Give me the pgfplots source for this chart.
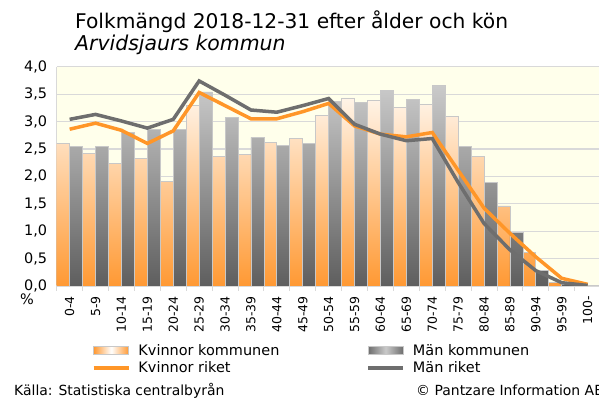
\documentclass[border=0pt]{standalone}
\usepackage{fontspec}
\setmainfont{DejaVu Sans}
\usepackage{pgfplots}
\usepackage{pgfplotstable}
\pgfplotsset{compat=1.18}
\definecolor{kor}{RGB}{255,153,51}
\definecolor{korline}{RGB}{255,150,40}
\definecolor{mgr}{RGB}{94,94,94}
\definecolor{mgrtop}{RGB}{202,202,202}
\definecolor{mline}{RGB}{110,110,110}
\definecolor{plotbg}{RGB}{255,255,235}
\definecolor{gridc}{RGB}{217,217,217}
\definecolor{barborder}{RGB}{200,200,200}
\definecolor{ktop}{RGB}{255,244,232}

\pgfplotstableread{
x k m kr mr
0 2.60 2.55 2.86 3.04
1 2.41 2.55 2.97 3.13
2 2.24 2.80 2.84 3.01
3 2.32 2.85 2.60 2.88
4 1.91 2.85 2.83 3.04
5 3.30 3.54 3.53 3.74
6 2.36 3.07 3.29 3.48
7 2.40 2.71 3.05 3.21
8 2.62 2.57 3.05 3.17
9 2.69 2.60 3.18 3.29
10 3.11 3.37 3.33 3.42
11 3.43 3.34 2.92 2.95
12 3.38 3.57 2.77 2.77
13 3.26 3.41 2.72 2.65
14 3.31 3.65 2.80 2.69
15 3.09 2.55 2.11 1.89
16 2.36 1.89 1.42 1.14
17 1.46 0.98 0.96 0.66
18 0.61 0.28 0.53 0.28
19 0.07 0.03 0.14 0.06
20 0.01 0.00 0.03 0.01
}\data

\begin{document}
\begin{tikzpicture}
\useasboundingbox (0,0) rectangle (599bp,401bp);
\begin{axis}[
  at={(56.7bp,115bp)}, anchor=south west,
  width=543.9bp, height=219.3bp, scale only axis,
  xmin=-0.5, xmax=20.5, ymin=0, ymax=4,
  axis background/.style={fill=plotbg},
  axis lines*=left,
  axis line style={draw=gridc, line width=1bp},
  ymajorgrids, grid style={draw=gridc, line width=1.2bp},
  ytick={0,0.5,1,1.5,2,2.5,3,3.5,4},
  xtick={0,...,20},
  xticklabels={0-4,5-9,10-14,15-19,20-24,25-29,30-34,35-39,40-44,45-49,50-54,55-59,60-64,65-69,70-74,75-79,80-84,85-89,90-94,95-99,100-},
  minor xtick={-0.5,0.5,...,20.5},
  major tick length=0pt, minor tick length=5bp,
  tick align=outside,
  tick style={draw=gridc, line width=1bp},
  yticklabel style={font=\fontsize{14.5}{16}\selectfont, /pgf/number format/.cd, fixed, fixed zerofill, precision=1, use comma, assume math mode=true},
  yticklabel shift=6bp,
  xticklabel style={font=\fontsize{12.5}{14}\selectfont, rotate=90, anchor=east, inner sep=0pt},
  xticklabel shift=10bp,
  legend columns=2,
  legend style={at={(0.0645,-0.265)}, anchor=north west, draw=none, fill=none,
    inner sep=0pt, row sep=5bp, column sep=0pt,
    nodes={inner sep=0pt, anchor=west, font=\fontsize{14.5}{16}\selectfont}},
]
\addplot[ybar, bar width=0.5, bar shift=-0.25, draw=barborder, line width=0.8bp,
  top color=ktop, bottom color=kor,
  legend image code/.code={\fill[left color=kor, right color=kor, middle color=white] (0bp,-4bp) rectangle (35bp,4bp);}]
  table[x=x,y=k]{\data};
\addlegendentry{\makebox[236bp][l]{\hspace*{8bp}Kvinnor kommunen}}
\addplot[ybar, bar width=0.5, bar shift=0.25, draw=barborder, line width=0.8bp,
  top color=mgrtop, bottom color=mgr,
  legend image code/.code={\fill[left color=mline, right color=mline, middle color=mgrtop] (0bp,-4bp) rectangle (35bp,4bp);}]
  table[x=x,y=m]{\data};
\addlegendentry{\hspace*{8bp}Män kommunen}
\addplot[korline, line width=3.5bp, mark=none,
  legend image code/.code={\draw[line width=3.5bp, korline] (0bp,0bp) -- (35bp,0bp);}]
  table[x=x,y=kr]{\data};
\addlegendentry{\makebox[236bp][l]{\hspace*{8bp}Kvinnor riket}}
\addplot[mline, line width=3.5bp, mark=none,
  legend image code/.code={\draw[line width=3.5bp, mline] (0bp,0bp) -- (35bp,0bp);}]
  table[x=x,y=mr]{\data};
\addlegendentry{\hspace*{8bp}Män riket}
\end{axis}
\node[anchor=base west, inner sep=0pt, font=\fontsize{20.3}{22}\selectfont] at (75bp,372bp) {Folkmängd 2018-12-31 efter ålder och kön};
\node[anchor=base west, inner sep=0pt, font=\fontsize{20.5}{22}\selectfont\itshape] at (75bp,350bp) {Arvidsjaurs kommun};
\node[anchor=west, inner sep=0pt, font=\fontsize{14.5}{16}\selectfont] at (20bp,101.5bp) {\%};
\node[anchor=base west, inner sep=0pt, font=\fontsize{14}{16}\selectfont] at (14bp,5.5bp) {Källa: Statistiska centralbyrån};
\node[anchor=base west, inner sep=0pt, font=\fontsize{14}{16}\selectfont] at (416bp,5.5bp) {© Pantzare Information AB};
\end{tikzpicture}
\end{document}
